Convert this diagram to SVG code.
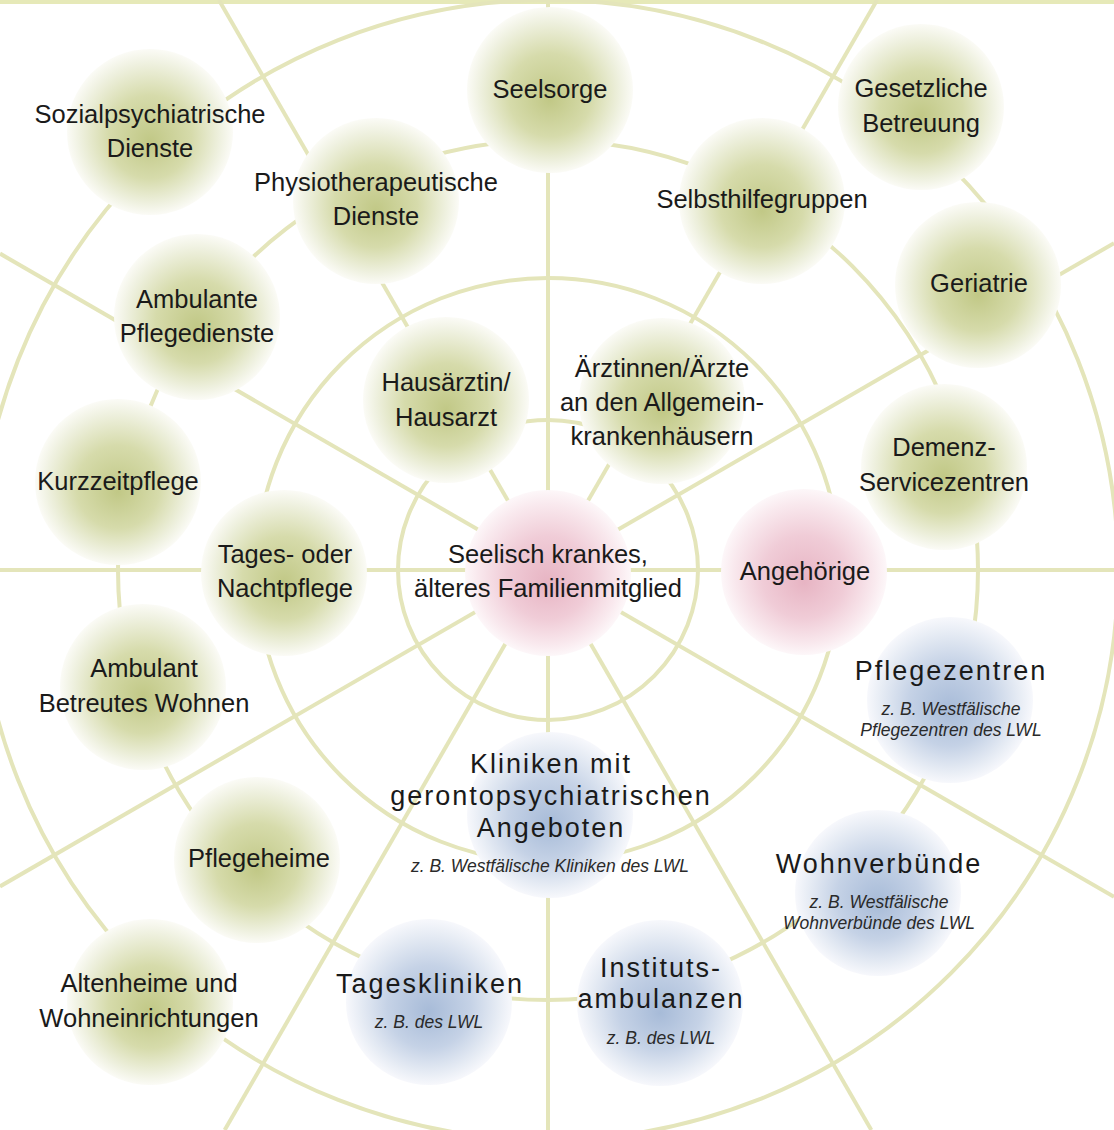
<svg xmlns="http://www.w3.org/2000/svg" width="1114" height="1130" viewBox="0 0 1114 1130">
<defs>
<radialGradient id="gG" cx="0.5" cy="0.5" r="0.5" fx="0.5" fy="0.56">
<stop offset="0" stop-color="#c1c886"/>
<stop offset="0.5" stop-color="#d6dbab"/>
<stop offset="0.85" stop-color="#eff1e0"/>
<stop offset="1" stop-color="#fbfbf6"/>
</radialGradient>
<radialGradient id="gP" cx="0.5" cy="0.5" r="0.5" fx="0.5" fy="0.56">
<stop offset="0" stop-color="#e7b4c3"/>
<stop offset="0.5" stop-color="#f0ccd7"/>
<stop offset="0.85" stop-color="#f9e9ee"/>
<stop offset="1" stop-color="#fdf7f9"/>
</radialGradient>
<radialGradient id="gB" cx="0.5" cy="0.5" r="0.5" fx="0.5" fy="0.56">
<stop offset="0" stop-color="#a7bbd8"/>
<stop offset="0.5" stop-color="#c5d2e6"/>
<stop offset="0.85" stop-color="#e8edf5"/>
<stop offset="1" stop-color="#f7f8fc"/>
</radialGradient>
</defs>
<style>
.ln{fill:none;stroke:#e4e5ba;stroke-width:4}
.ng{fill:url(#gG)}
.np{fill:url(#gP)}
.nb{fill:url(#gB)}
text{font-family:"Liberation Sans",Arial,sans-serif;text-anchor:middle;fill:#1a1a1a}
.t{font-size:25.5px}
.h{font-size:27px;letter-spacing:2px}
.s{font-size:17.5px;font-style:italic;fill:#2a2a2a}
</style>
<rect x="0" y="0" width="1114" height="1130" fill="#ffffff"/>
<rect x="0" y="0" width="1114" height="4" fill="#e6e9b8"/>
<g id="connectors">
<circle class="ln" cx="548" cy="570" r="150"/>
<circle class="ln" cx="548" cy="570" r="292"/>
<circle class="ln" cx="548" cy="570" r="430"/>
<circle class="ln" cx="548" cy="570" r="570"/>
<line class="ln" x1="0" y1="570" x2="1114" y2="570"/>
<line class="ln" x1="548" y1="0" x2="548" y2="1130"/>
<line class="ln" x1="0" y1="253.6" x2="1114" y2="896.8"/>
<line class="ln" x1="0" y1="886.4" x2="1114" y2="243.2"/>
<line class="ln" x1="218.9" y1="0" x2="871.3" y2="1130"/>
<line class="ln" x1="877.1" y1="0" x2="224.7" y2="1130"/>
</g>
<g id="node-sozialpsychiatrische-dienste">
<circle class="ng" cx="150" cy="132" r="83"/>
<text class="t" x="150" y="123">Sozialpsychiatrische</text>
<text class="t" x="150" y="157">Dienste</text>
</g>
<g id="node-physiotherapeutische-dienste">
<circle class="ng" cx="376" cy="201" r="83"/>
<text class="t" x="376" y="191">Physiotherapeutische</text>
<text class="t" x="376" y="225">Dienste</text>
</g>
<g id="node-seelsorge">
<circle class="ng" cx="550" cy="90" r="83"/>
<text class="t" x="550" y="98">Seelsorge</text>
</g>
<g id="node-gesetzliche-betreuung">
<circle class="ng" cx="921" cy="107" r="83"/>
<text class="t" x="921" y="97">Gesetzliche</text>
<text class="t" x="921" y="132">Betreuung</text>
</g>
<g id="node-selbsthilfegruppen">
<circle class="ng" cx="762" cy="201" r="83"/>
<text class="t" x="762" y="208">Selbsthilfegruppen</text>
</g>
<g id="node-geriatrie">
<circle class="ng" cx="978" cy="285" r="83"/>
<text class="t" x="979" y="292">Geriatrie</text>
</g>
<g id="node-ambulante-pflegedienste">
<circle class="ng" cx="197" cy="317" r="83"/>
<text class="t" x="197" y="308">Ambulante</text>
<text class="t" x="197" y="342">Pflegedienste</text>
</g>
<g id="node-hausarzt">
<circle class="ng" cx="446" cy="400" r="83"/>
<text class="t" x="446" y="391">Hausärztin/</text>
<text class="t" x="446" y="426">Hausarzt</text>
</g>
<g id="node-aerzte-allgemeinkrankenhaeuser">
<circle class="ng" cx="662" cy="401" r="83"/>
<text class="t" x="662" y="377">Ärztinnen/Ärzte</text>
<text class="t" x="662" y="411">an den Allgemein-</text>
<text class="t" x="662" y="445">krankenhäusern</text>
</g>
<g id="node-demenz-servicezentren">
<circle class="ng" cx="944" cy="467" r="83"/>
<text class="t" x="944" y="456">Demenz-</text>
<text class="t" x="944" y="491">Servicezentren</text>
</g>
<g id="node-kurzzeitpflege">
<circle class="ng" cx="118" cy="482" r="83"/>
<text class="t" x="118" y="490">Kurzzeitpflege</text>
</g>
<g id="node-tages-nachtpflege">
<circle class="ng" cx="284" cy="573" r="83"/>
<text class="t" x="285" y="563">Tages- oder</text>
<text class="t" x="285" y="597">Nachtpflege</text>
</g>
<g id="node-familienmitglied">
<circle class="np" cx="548" cy="573" r="83"/>
<text class="t" x="548" y="563">Seelisch krankes,</text>
<text class="t" x="548" y="597">älteres Familienmitglied</text>
</g>
<g id="node-angehoerige">
<circle class="np" cx="804" cy="572" r="83"/>
<text class="t" x="805" y="580">Angehörige</text>
</g>
<g id="node-ambulant-betreutes-wohnen">
<circle class="ng" cx="143" cy="687" r="83"/>
<text class="t" x="144" y="677">Ambulant</text>
<text class="t" x="144" y="712">Betreutes Wohnen</text>
</g>
<g id="node-pflegezentren">
<circle class="nb" cx="950" cy="700" r="83"/>
<text class="h" x="951" y="680">Pflegezentren</text>
<text class="s" x="951" y="715">z. B. Westfälische</text>
<text class="s" x="951" y="736">Pflegezentren des LWL</text>
</g>
<g id="node-kliniken">
<circle class="nb" cx="550" cy="815" r="83"/>
<text class="h" x="551" y="773">Kliniken mit</text>
<text class="h" x="551" y="805">gerontopsychiatrischen</text>
<text class="h" x="551" y="837">Angeboten</text>
<text class="s" x="550" y="872">z. B. Westfälische Kliniken des LWL</text>
</g>
<g id="node-pflegeheime">
<circle class="ng" cx="257" cy="860" r="83"/>
<text class="t" x="259" y="867">Pflegeheime</text>
</g>
<g id="node-wohnverbuende">
<circle class="nb" cx="878" cy="893" r="83"/>
<text class="h" x="879" y="873">Wohnverbünde</text>
<text class="s" x="879" y="908">z. B. Westfälische</text>
<text class="s" x="879" y="929">Wohnverbünde des LWL</text>
</g>
<g id="node-altenheime">
<circle class="ng" cx="150" cy="1002" r="83"/>
<text class="t" x="149" y="992">Altenheime und</text>
<text class="t" x="149" y="1027">Wohneinrichtungen</text>
</g>
<g id="node-tageskliniken">
<circle class="nb" cx="429" cy="1002" r="83"/>
<text class="h" x="430" y="993">Tageskliniken</text>
<text class="s" x="429" y="1028">z. B. des LWL</text>
</g>
<g id="node-institutsambulanzen">
<circle class="nb" cx="660" cy="1003" r="83"/>
<text class="h" x="661" y="977">Instituts-</text>
<text class="h" x="661" y="1008">ambulanzen</text>
<text class="s" x="661" y="1044">z. B. des LWL</text>
</g>
</svg>
